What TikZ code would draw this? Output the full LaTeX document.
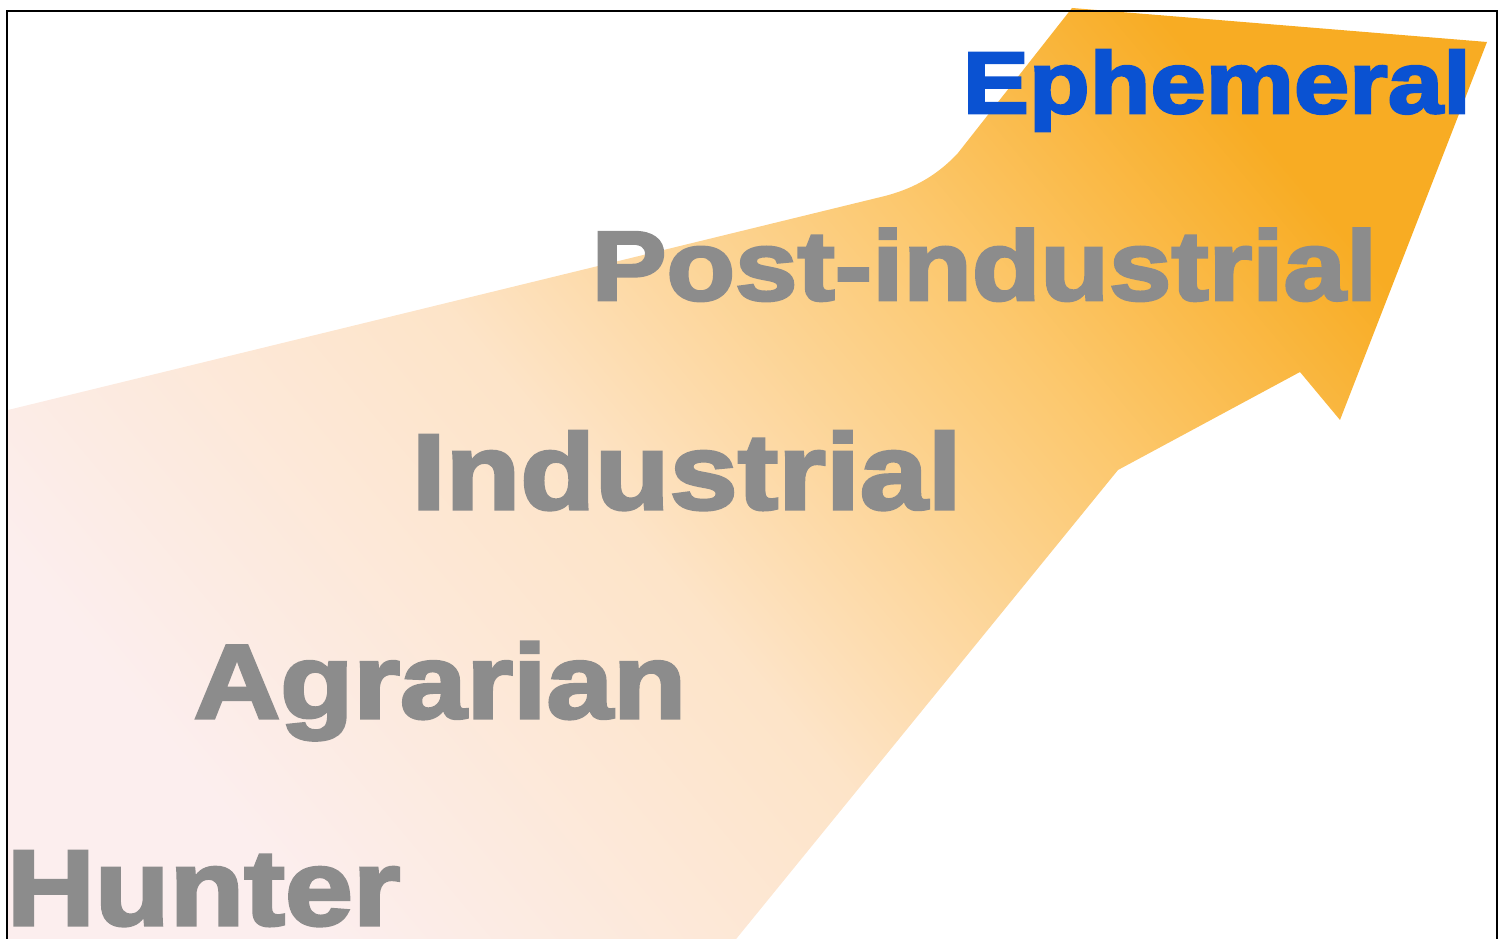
\documentclass[tikz,border=0pt]{standalone}
\usepackage{fontspec}
\newfontfamily\stagefont{Liberation Sans}[FakeBold=3,FakeStretch=1.14]
\definecolor{stagegray}{RGB}{140,140,140}
\definecolor{stageblue}{RGB}{10,82,210}
\definecolor{arrowpink}{RGB}{252,238,238}
\definecolor{arrowpeach}{RGB}{253,228,200}
\definecolor{arrowlight}{RGB}{252,200,110}
\definecolor{arrowgold}{RGB}{248,172,35}
\pgfdeclarehorizontalshading{stageshade}{100bp}{color(0bp)=(arrowpink); color(25bp)=(arrowpink); color(45bp)=(arrowpeach); color(62bp)=(arrowlight); color(75bp)=(arrowgold); color(100bp)=(arrowgold)}
\tikzset{
  stage/.style={inner sep=0pt, anchor=base west, text=stagegray, font=\stagefont\bfseries\fontsize{30.5}{36}\selectfont},
  frame/.style={draw=black, line width=0.6pt}
}
\begin{document}
\begin{tikzpicture}
	\useasboundingbox (0,0) rectangle (15.06,9.39);
	\clip (0,0) rectangle (15.06,9.39);
	\path[shading=stageshade, shading angle=40] (0.08,-0.10) -- (0.08,5.29) -- (8.85,7.43) .. controls (9.08,7.49) and (9.34,7.60) .. (9.58,7.86) -- (10.72,9.31) -- (14.87,8.97) -- (13.40,5.19) -- (13.00,5.67) -- (11.18,4.69) -- (7.28,-0.10) -- cycle;
	\draw[frame] (0.07,-0.20) rectangle (14.97,9.28);
	\node[stage] (hunter) at (0.06,0.14) {Hunter};
	\node[stage, font=\stagefont\bfseries\fontsize{29.9}{36}\selectfont] (agrarian) at (1.93,2.21) {Agrarian};
	\node[stage] (industrial) at (4.11,4.30) {Industrial};
	\node[stage, font=\stagefont\bfseries\fontsize{28}{34}\selectfont] (postind) at (5.91,6.39) {Post-industrial};
	\node[stage, text=stageblue, font=\stagefont\bfseries\fontsize{24.8}{30}\selectfont] (ephemeral) at (9.62,8.26) {Ephemeral};
\end{tikzpicture}
\end{document}
